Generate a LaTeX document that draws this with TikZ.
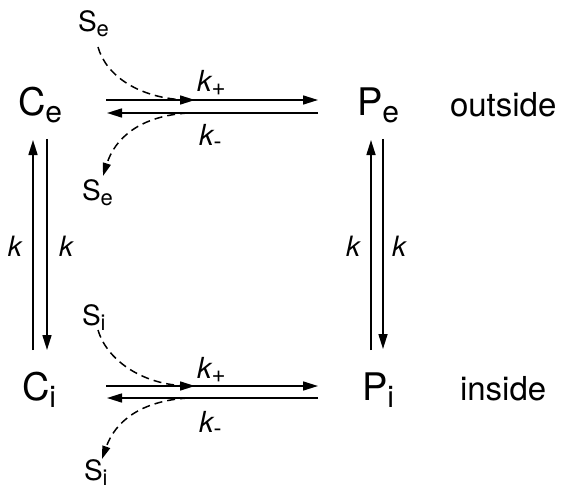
\documentclass[tikz,border=0pt]{standalone}
\usepackage{fontspec}
\setmainfont{TeX Gyre Heros}
\usetikzlibrary{arrows.meta}
\newcommand\bigsub[2]{{\fontsize{38}{40}\selectfont #1}\raisebox{-7pt}{\fontsize{30}{32}\selectfont #2}}
\newcommand\ssub[2]{{\fontsize{28}{30}\selectfont #1}\raisebox{-5pt}{\fontsize{22}{24}\selectfont #2}}
\newcommand\ksub[1]{{\fontsize{29}{31}\selectfont\itshape k}\raisebox{-4pt}{\fontsize{24}{26}\selectfont #1}}
\begin{document}
\begin{tikzpicture}[x=1pt,y=-1pt,
  lab/.style={inner sep=0pt, outer sep=0pt, anchor=base west},
  word/.style={lab, font=\fontsize{33}{35}\selectfont},
  kl/.style={inner sep=0pt, font=\fontsize{28}{30}\selectfont\itshape},
  arr/.style={line width=1.6pt, -{Triangle[length=15pt,width=9pt]}},
  dsh/.style={line width=1.5pt, dash pattern=on 8pt off 5pt},
  darr/.style={dsh, -{Triangle[length=13pt,width=8pt]}},
]
\useasboundingbox (0,0) rectangle (561,489);
% species
\node[lab] (Ce) at (18,116) {\bigsub{C}{e}};
\node[lab] (Pe) at (357,116) {\bigsub{P}{e}};
\node[lab] (Ci) at (22,400) {\bigsub{C}{i}};
\node[lab] (Pi) at (362,400) {\bigsub{P}{i}};
\node[word] (out) at (450,117) {outside};
\node[word] (in) at (460,400) {inside};
% substrates
\node[lab] (Se1) at (78,32) {\ssub{S}{e}};
\node[lab] (Se2) at (82,200) {\ssub{S}{e}};
\node[lab] (Si1) at (82,325) {\ssub{S}{i}};
\node[lab] (Si2) at (84,480) {\ssub{S}{i}};
% rate labels
\node[lab] (kp1) at (197,92) {\ksub{+}};
\node[lab] (km1) at (199,146) {\ksub{-}};
\node[lab] (kp2) at (197,378) {\ksub{+}};
\node[lab] (km2) at (199,432) {\ksub{-}};
\node[kl] (kl1) at (15,246) {k};
\node[kl] (kl2) at (66,246) {k};
\node[kl] (kl3) at (353,246) {k};
\node[kl] (kl4) at (399,246) {k};
% coordinates
\coordinate (a1) at (106,100); \coordinate (b1) at (318,100);
\coordinate (a2) at (318,113); \coordinate (b2) at (107,113);
\coordinate (m1) at (195,100);
\coordinate (a3) at (106,386); \coordinate (b3) at (318,386);
\coordinate (a4) at (318,398); \coordinate (b4) at (107,398);
\coordinate (m3) at (195,386);
\coordinate (v1) at (33,350); \coordinate (v1t) at (33,140);
\coordinate (v2) at (47,139); \coordinate (v2t) at (47,350);
\coordinate (v3) at (371,350); \coordinate (v3t) at (371,140);
\coordinate (v4) at (383,139); \coordinate (v4t) at (383,349);
% horizontal reactions
\draw[arr] (a1) -- (b1);
\draw[arr] (a1) -- (m1);
\draw[arr] (a2) -- (b2);
\draw[arr] (a3) -- (b3);
\draw[arr] (a3) -- (m3);
\draw[arr] (a4) -- (b4);
% vertical transitions
\draw[arr] (v1) -- (v1t);
\draw[arr] (v2) -- (v2t);
\draw[arr] (v3) -- (v3t);
\draw[arr] (v4) -- (v4t);
% dashed substrate paths
\coordinate (s1) at (98,47); \coordinate (e1) at (188,100);
\coordinate (s2) at (188,113); \coordinate (e2) at (103,176);
\coordinate (s3) at (98,330); \coordinate (e3) at (188,386);
\coordinate (s4) at (188,398); \coordinate (e4) at (102,459);
\draw[dsh] (s1) .. controls (106,76) and (140,99) .. (e1);
\draw[darr] (s2) .. controls (140,116) and (115,138) .. (e2);
\draw[dsh] (s3) .. controls (106,358) and (140,385) .. (e3);
\draw[darr] (s4) .. controls (140,401) and (115,422) .. (e4);
\end{tikzpicture}
\end{document}
